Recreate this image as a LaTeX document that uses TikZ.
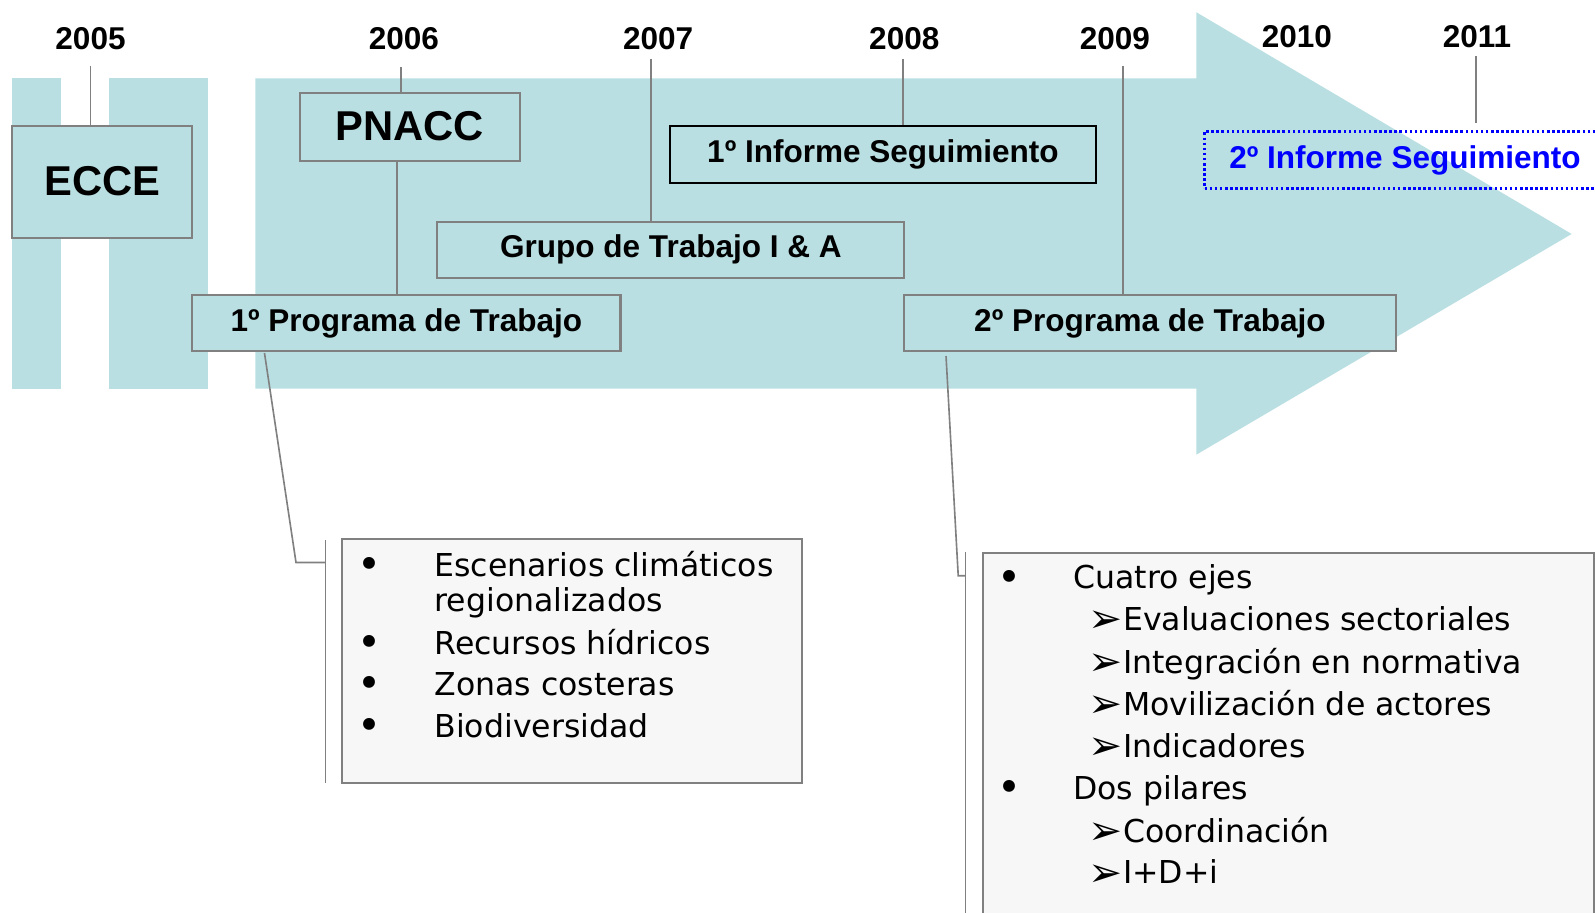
\documentclass[tikz,border=0pt]{standalone}
\usepackage{fontspec}
\setmainfont{Liberation Sans}
\newfontfamily\vfont{DejaVu Sans}
\usetikzlibrary{calc}
\definecolor{teal1}{RGB}{185,223,226}
\definecolor{boxgray}{RGB}{128,128,128}
\definecolor{callbg}{RGB}{247,247,247}
\definecolor{infblue}{RGB}{0,0,255}
\newcommand\myfs[1]{\fontsize{#1}{#1}\selectfont}
\begin{document}
\begin{tikzpicture}[x=1pt,y=-1pt,
  yearlbl/.style={font=\myfs{31}\bfseries, anchor=base, inner sep=0pt},
  tlbox/.style={draw=boxgray, line width=2pt, fill=teal1, inner sep=0pt, font=\myfs{31}\bfseries},
  bigbox/.style={tlbox, font=\myfs{41}\bfseries},
  conn/.style={draw=boxgray, line width=1.6pt},
  callbox/.style={draw=boxgray, line width=2pt, fill=callbg, inner sep=0pt},
  ltext/.style={font=\vfont\myfs{31}, anchor=base west, inner sep=0pt},
  bul/.style={font=\vfont\myfs{40}, anchor=base, inner sep=0pt},
  subarr/.style={font=\vfont\myfs{40}, anchor=base east, inner sep=0pt},
]
\useasboundingbox (0,0) rectangle (1568,897);
\clip (0,0) rectangle (1568,897);
\fill[white] (0,0) rectangle (1568,897);

% background bands and arrow
\fill[teal1] (12,77) rectangle (60,382);
\fill[teal1] (107,77) rectangle (204,382);
\fill[teal1] (251,77) -- (1176,77) -- (1176,12) -- (1545,230) -- (1176,447) -- (1176,382) -- (251,382) -- cycle;

% year labels
\node[yearlbl] (y2005) at (89,49) {2005};
\node[yearlbl] (y2006) at (397,49) {2006};
\node[yearlbl] (y2007) at (647,49) {2007};
\node[yearlbl] (y2008) at (889,49) {2008};
\node[yearlbl] (y2009) at (1096,49) {2009};
\node[yearlbl] (y2010) at (1275,47) {2010};
\node[yearlbl] (y2011) at (1452,47) {2011};

% boxes
\node[bigbox, minimum width=177pt, minimum height=110pt] (ecce) at (100.5,179) {\raisebox{3pt}{ECCE}};
\node[bigbox, minimum width=216pt, minimum height=67pt] (pnacc) at (403,124.5) {\raisebox{2pt}{PNACC}};
\node[tlbox, minimum width=421pt, minimum height=55pt] (prog1) at (399.5,317.5) {1º Programa de Trabajo};
\node[tlbox, minimum width=459pt, minimum height=55pt] (grupo) at (659.5,245.5) {Grupo de Trabajo I \& A};
\node[tlbox, draw=black, minimum width=418pt, minimum height=56pt] (inf1) at (868,152) {1º Informe Seguimiento};
\node[tlbox, minimum width=483pt, minimum height=55pt] (prog2) at (1130.5,317.5) {2º Programa de Trabajo};
\node[draw=infblue, line width=2.5pt, dash pattern=on 2.5pt off 2.5pt, text=infblue,
      font=\myfs{31}\bfseries, inner sep=0pt, minimum width=394pt, minimum height=56pt,
      anchor=north west] (inf2) at (1183,128) {2º Informe Seguimiento};

% year connectors
\coordinate (t2005) at (89,65);
\coordinate (t2006) at (394,66);
\coordinate (t2007) at (640,58);
\coordinate (t2008) at (888,58);
\coordinate (t2009) at (1104,65);
\coordinate (t2011) at (1451,55);
\draw[conn] (t2005) -- (t2005 |- ecce.north);
\draw[conn] (t2006) -- (t2006 |- pnacc.north);
\draw[conn] (t2007) -- (t2007 |- grupo.north);
\draw[conn] (t2008) -- (t2008 |- inf1.north);
\draw[conn] (t2009) -- (t2009 |- prog2.north);
\draw[conn] (t2011) -- ([yshift=7pt]t2011 |- inf2.north);
\draw[conn] ($(pnacc.south)+(-13,0)$) coordinate (pp) -- (pp |- prog1.north);

% callout 1
\node[callbox, minimum width=452pt, minimum height=240pt] (c1) at (562,650) {};
\coordinate (b1top) at (320,531);
\coordinate (b1bot) at (320,770);
\coordinate (k1) at (320,553);
\draw[conn] (b1top) -- (b1bot);
\draw[conn] ($(prog1.south west)+(72,1)$) -- (291,553) -- (k1);

\node[bul] (c1b1) at (363,569) {•};
\node[ltext] (c1t1) at (427,567) {Escenarios climáticos};
\node[ltext] (c1t1b) at (427,601) {regionalizados};
\node[bul] (c1b2) at (363,645) {•};
\node[ltext] (c1t2) at (427,643) {Recursos hídricos};
\node[bul] (c1b3) at (363,686) {•};
\node[ltext] (c1t3) at (427,684) {Zonas costeras};
\node[bul] (c1b4) at (363,727) {•};
\node[ltext] (c1t4) at (427,725) {Biodiversidad};

% callout 2
\node[callbox, minimum width=601pt, minimum height=420pt, anchor=north west] (c2) at (965,543) {};
\coordinate (b2top) at (949,543);
\coordinate (b2bot) at (949,920);
\coordinate (k2) at (949,566);
\draw[conn] (b2top) -- (b2bot);
\draw[conn] ($(prog2.south west)+(42,4)$) -- (942,566) -- (k2);

\node[bul] (c2b1) at (992,581) {•};
\node[ltext] (c2t1) at (1055,579) {Cuatro ejes};
\node[subarr] (c2a1) at (1104,622) {➢};
\node[ltext] (c2s1) at (1104,620) {Evaluaciones sectoriales};
\node[subarr] (c2a2) at (1104,664) {➢};
\node[ltext] (c2s2) at (1104,662) {Integración en normativa};
\node[subarr] (c2a3) at (1104,705) {➢};
\node[ltext] (c2s3) at (1104,703) {Movilización de actores};
\node[subarr] (c2a4) at (1104,747) {➢};
\node[ltext] (c2s4) at (1104,745) {Indicadores};
\node[bul] (c2b2) at (992,788) {•};
\node[ltext] (c2t2) at (1055,786) {Dos pilares};
\node[subarr] (c2a5) at (1104,830) {➢};
\node[ltext] (c2s5) at (1104,828) {Coordinación};
\node[subarr] (c2a6) at (1104,871) {➢};
\node[ltext] (c2s6) at (1104,869) {I+D+i};
\end{tikzpicture}
\end{document}
